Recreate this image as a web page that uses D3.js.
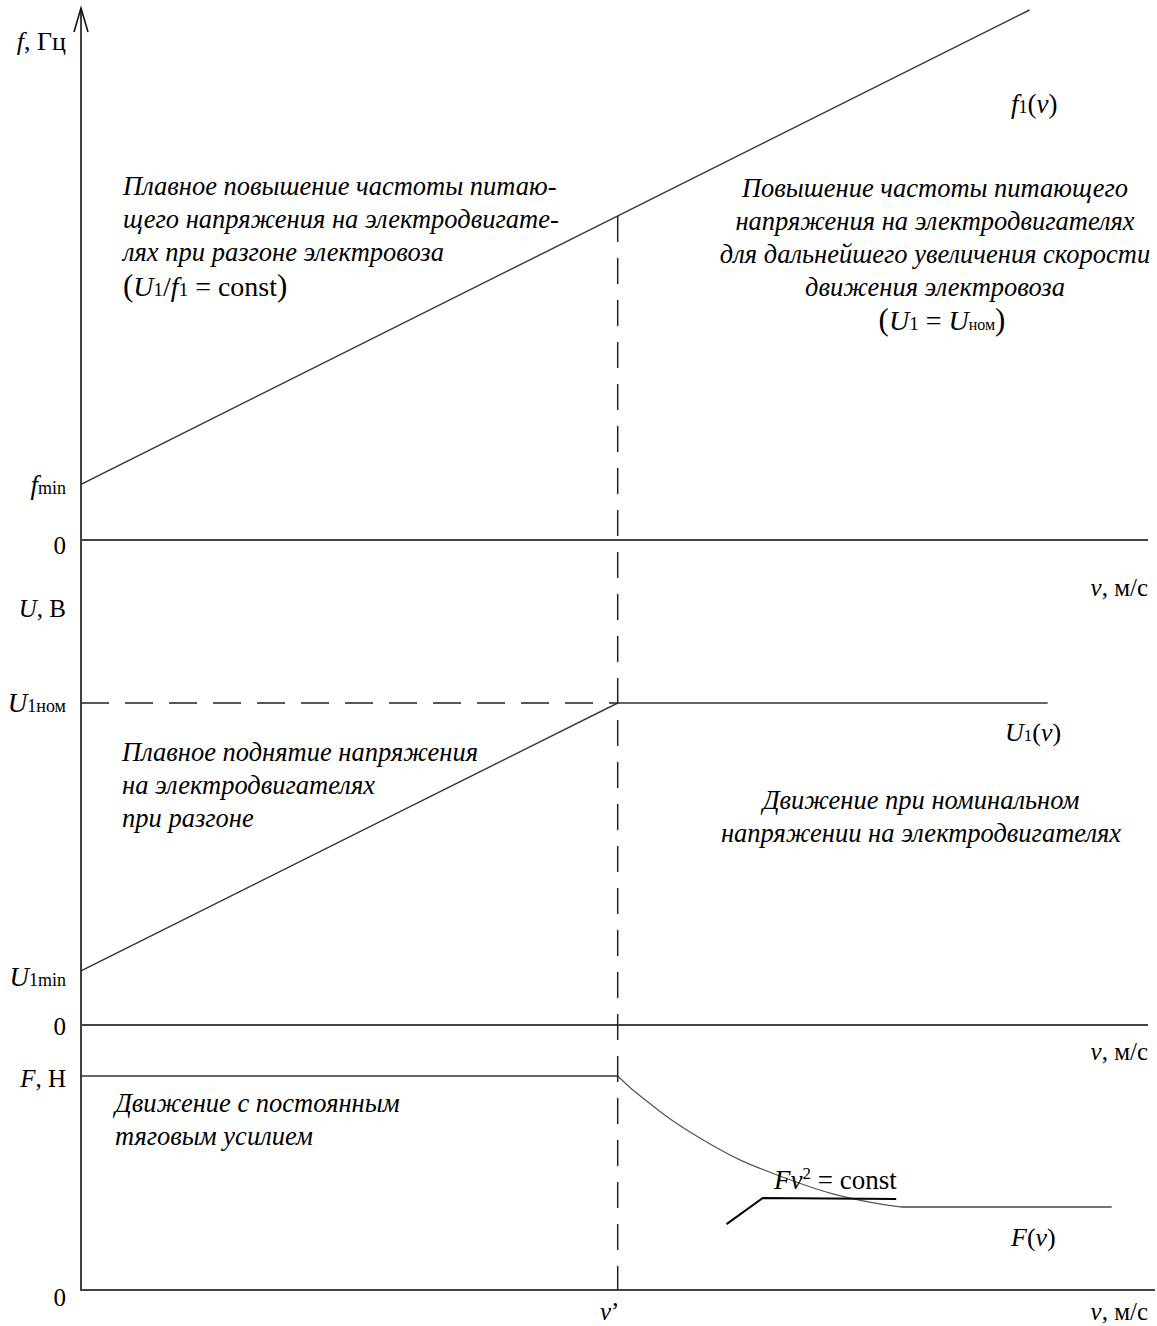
<!DOCTYPE html>
<html>
<head>
<meta charset="utf-8">
<script src="https://cdn.jsdelivr.net/npm/d3@7"></script>
<style>
  body { margin: 0; background: #fff; }
  svg text { font-family: "Liberation Serif", "Times New Roman", serif; fill: #000; }
  .it { font-style: italic; }
</style>
</head>
<body>
<div id="container"></div>
<script>
// Values (v and all three quantities in relative units, 0..100)
const vPrime = 50.3;

// f1(v): linear rise from fmin
const freqV = [0, 88.9];
const freqVal = [10.5, 100];

// U1(v): rises to U1nom at v', then constant
const voltV = [0, 50.3, 90.6];
const voltVal = [16.8, 100, 100];
const uNom = 100;

// F(v): constant up to v', then Fv^2 = const falloff, then flat
const forceFlatV = [0, 50.3];
const forceFlatVal = [100, 100];
const forceCurveV = [50.3, 51.5, 52.9, 54.7, 58.0, 61.8, 65.5, 70.2, 73.9, 76.8];
const forceCurveVal = [100, 94.4, 88.8, 81.8, 71.0, 60.7, 53.3, 45.3, 41.1, 38.8];
const forceTailV = [76.8, 96.6];
const forceTailVal = [38.8, 38.8];

// leader for the "Fv^2 = const" label
const leaderV = [60.5, 63.9, 76.4];
const leaderVal = [30.8, 43.0, 42.5];

function BuildChart() {
  let width = 1157;
  let height = 1326;

  let svg = d3.select('#container')
    .append('svg')
    .attr('width', width)
    .attr('height', height);

  // shared speed axis, one value scale per panel
  let xScale = d3.scaleLinear().domain([0, 100]).range([81, 1148]);
  let yFreq = d3.scaleLinear().domain([0, 100]).range([540, 10]);
  let yVolt = d3.scaleLinear().domain([0, 100]).range([1025, 703]);
  let yForce = d3.scaleLinear().domain([0, 100]).range([1290, 1076]);

  let zip = (xs, ys) => xs.map((x, i) => [x, ys[i]]);

  // vertical axis with arrow
  svg.append('line')
    .attr('x1', xScale(0)).attr('x2', xScale(0))
    .attr('y1', yForce(0) + 1).attr('y2', 8)
    .attr('stroke', '#111').attr('stroke-width', 1.6);
  svg.append('path')
    .attr('d', `M${xScale(0) - 7},32 L${xScale(0)},8 L${xScale(0) + 7},32`)
    .attr('fill', 'none').attr('stroke', '#111').attr('stroke-width', 1.6);

  // horizontal (speed) axes for each panel
  [[yFreq, 1148], [yVolt, 1148], [yForce, 1155]].forEach(([ys, xEnd]) => {
    svg.append('line')
      .attr('x1', xScale(0)).attr('x2', xEnd)
      .attr('y1', ys(0)).attr('y2', ys(0))
      .attr('stroke', '#444').attr('stroke-width', 2);
  });

  let lineStyle = (sel, w, c) => sel.attr('fill', 'none').attr('stroke', c || '#333').attr('stroke-width', w || 1.4);

  // f1(v)
  let freqLine = d3.line().x(d => xScale(d[0])).y(d => yFreq(d[1]));
  lineStyle(svg.append('path').attr('d', freqLine(zip(freqV, freqVal))));

  // U1(v)
  let voltLine = d3.line().x(d => xScale(d[0])).y(d => yVolt(d[1]));
  lineStyle(svg.append('path').attr('d', voltLine(zip(voltV, voltVal))));

  // U1nom dashed reference
  svg.append('line')
    .attr('x1', xScale(0)).attr('x2', xScale(vPrime))
    .attr('y1', yVolt(uNom)).attr('y2', yVolt(uNom))
    .attr('stroke', '#222').attr('stroke-width', 1.5)
    .attr('stroke-dasharray', '28,16');

  // F(v)
  let forceLine = d3.line().x(d => xScale(d[0])).y(d => yForce(d[1]));
  lineStyle(svg.append('path').attr('d', forceLine(zip(forceFlatV, forceFlatVal))));
  lineStyle(svg.append('path')
    .attr('d', forceLine.curve(d3.curveMonotoneX)(zip(forceCurveV, forceCurveVal))), 1.2, '#555');
  forceLine.curve(d3.curveLinear);
  lineStyle(svg.append('path').attr('d', forceLine(zip(forceTailV, forceTailVal))), 1.4, '#444');
  lineStyle(svg.append('path').attr('d', forceLine(zip(leaderV, leaderVal))), 2, '#000');

  // v' dashed vertical
  let fAtPrime = d3.scaleLinear().domain(freqV).range(freqVal)(vPrime);
  svg.append('line')
    .attr('x1', xScale(vPrime)).attr('x2', xScale(vPrime))
    .attr('y1', yFreq(fAtPrime)).attr('y2', yForce(0))
    .attr('stroke', '#222').attr('stroke-width', 1.5)
    .attr('stroke-dasharray', '26,16');

  // ---- text ----
  let txt = (x, y, anchor, size) => svg.append('text')
    .attr('x', x).attr('y', y)
    .attr('text-anchor', anchor || 'start')
    .style('font-size', (size || 25) + 'px');
  let sub = (t, s, size) => t.append('tspan').style('font-size', (size || 17) + 'px').text(s);

  // axis labels
  let t = txt(66, 50, 'end', 26);
  t.append('tspan').attr('class', 'it').text('f');
  t.append('tspan').text(', Гц');

  t = txt(66, 494, 'end', 27);
  t.append('tspan').attr('class', 'it').text('f');
  sub(t, 'min', 18);

  txt(66, 554, 'end').text('0');
  txt(66, 1035, 'end').text('0');
  txt(66, 1306, 'end').text('0');

  [596, 1060, 1320].forEach(y => {
    let s = txt(1148, y, 'end');
    s.append('tspan').attr('class', 'it').text('v');
    s.append('tspan').text(', м/с');
  });

  t = txt(66, 617, 'end');
  t.append('tspan').attr('class', 'it').text('U');
  t.append('tspan').text(', В');

  t = txt(66, 712, 'end', 27);
  t.append('tspan').attr('class', 'it').text('U');
  sub(t, '1ном', 18);

  t = txt(66, 986, 'end', 27);
  t.append('tspan').attr('class', 'it').text('U');
  sub(t, '1min', 18);

  t = txt(66, 1087, 'end');
  t.append('tspan').attr('class', 'it').text('F');
  t.append('tspan').text(', Н');

  t = txt(xScale(vPrime) - 8, 1320, 'middle');
  t.append('tspan').attr('class', 'it').text('v');
  t.append('tspan').text('’');

  // curve names
  t = txt(1011, 113, 'start', 27);
  t.append('tspan').attr('class', 'it').text('f');
  sub(t, '1', 18);
  t.append('tspan').text('(');
  t.append('tspan').attr('class', 'it').text('v');
  t.append('tspan').text(')');

  t = txt(1005, 741, 'start', 26);
  t.append('tspan').attr('class', 'it').text('U');
  sub(t, '1');
  t.append('tspan').text('(');
  t.append('tspan').attr('class', 'it').text('v');
  t.append('tspan').text(')');

  t = txt(1011, 1246, 'start', 26);
  t.append('tspan').attr('class', 'it').text('F');
  t.append('tspan').text('(');
  t.append('tspan').attr('class', 'it').text('v');
  t.append('tspan').text(')');

  t = txt(774, 1189, 'start', 27);
  t.append('tspan').attr('class', 'it').text('Fv');
  t.append('tspan').attr('dy', -10).style('font-size', '17px').text('2');
  t.append('tspan').attr('dy', 10).text(' = const');

  // annotation paragraphs
  let para = (x, y0, lines, anchor) => lines.forEach((s, i) => {
    txt(x, y0 + i * 33, anchor, 26.5).attr('class', 'it').text(s);
  });

  para(123, 195, [
    'Плавное повышение частоты питаю-',
    'щего напряжения на электродвигате-',
    'лях при разгоне электровоза'
  ]);
  t = txt(123, 296, 'start', 28);
  t.append('tspan').style('font-size', '31px').text('(');
  t.append('tspan').attr('class', 'it').text('U');
  sub(t, '1', 19);
  t.append('tspan').text('/');
  t.append('tspan').attr('class', 'it').text('f');
  sub(t, '1', 19);
  t.append('tspan').text(' = const');
  t.append('tspan').style('font-size', '31px').text(')');

  para(935, 197, [
    'Повышение частоты питающего',
    'напряжения на электродвигателях',
    'для дальнейшего увеличения скорости',
    'движения электровоза'
  ], 'middle');
  t = txt(942, 330, 'middle', 28);
  t.append('tspan').style('font-size', '31px').text('(');
  t.append('tspan').attr('class', 'it').text('U');
  sub(t, '1', 19);
  t.append('tspan').text(' = ');
  t.append('tspan').attr('class', 'it').text('U');
  sub(t, 'ном', 16);
  t.append('tspan').style('font-size', '31px').text(')');

  para(122, 761, [
    'Плавное поднятие напряжения',
    'на электродвигателях',
    'при разгоне'
  ]);

  para(921, 809, [
    'Движение при номинальном',
    'напряжении на электродвигателях'
  ], 'middle');

  para(115, 1112, [
    'Движение с постоянным',
    'тяговым усилием'
  ]);
}

BuildChart();
</script>
</body>
</html>
